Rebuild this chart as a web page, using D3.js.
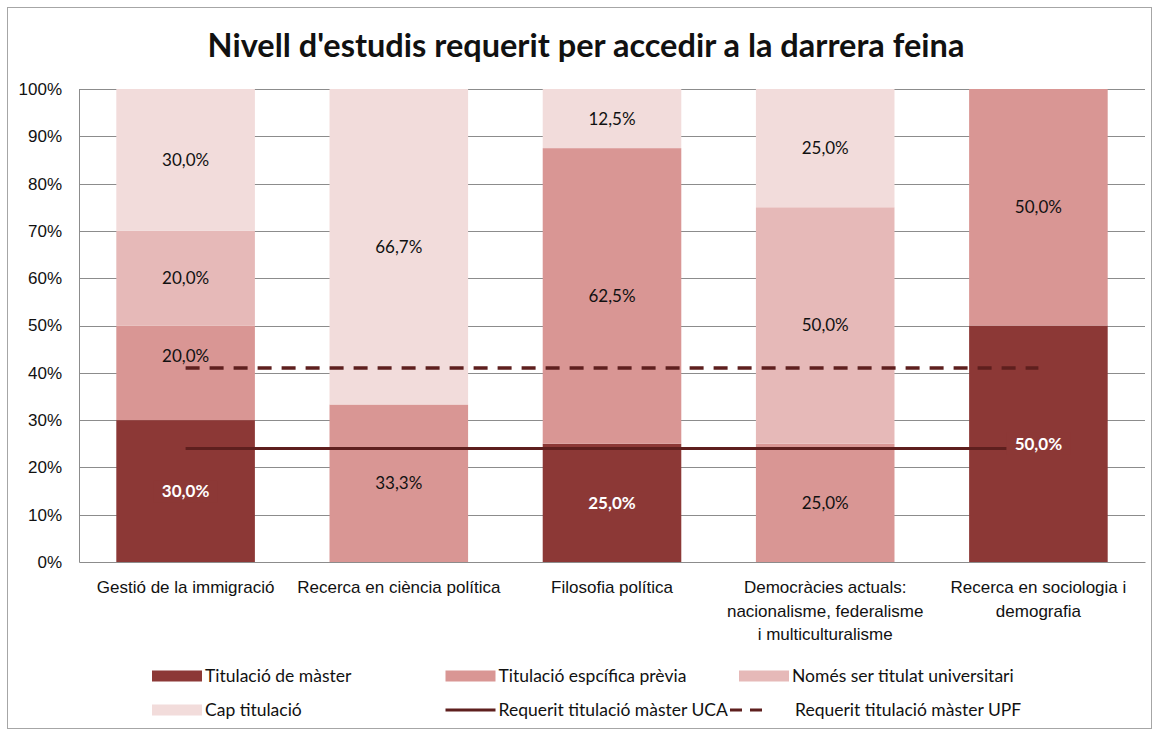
<!DOCTYPE html>
<html>
<head>
<meta charset="utf-8">
<script src="https://cdn.jsdelivr.net/npm/d3@7"></script>
<style>
  body { margin: 0; background: #fff; }
  svg { font-family: Lato, "Open Sans", sans-serif; }
</style>
</head>
<body>
<svg width="1159" height="731"></svg>
<script>
// chart data
var categories = [
  "Gestió de la immigració",
  "Recerca en ciència política",
  "Filosofia política",
  "Democràcies actuals:\nnacionalisme, federalisme\ni multiculturalisme",
  "Recerca en sociologia i\ndemografia"
];
var seriesNames = ["Titulació de màster", "Titulació espcífica prèvia", "Només ser titulat universitari", "Cap titulació"];
var master    = [30, 0, 25, 0, 50];
var especific = [20, 33.3, 62.5, 25, 50];
var nomes     = [20, 0, 0, 50, 0];
var cap       = [30, 66.7, 12.5, 25, 0];
var lineNames = ["Requerit titulació màster UCA", "Requerit titulació màster UPF"];
var uca = [24, 24, 24, 24, 24];
var upf = [41, 41, 41, 41, 41];
var yTicks = [0, 10, 20, 30, 40, 50, 60, 70, 80, 90, 100];
var title = "Nivell d'estudis requerit per accedir a la darrera feina";

var colors = ["#8c3836", "#d99694", "#e6b9b8", "#f2dcdb"];
var lineColor = "#5e1f1e";

var svg = d3.select("svg"),
    margin = {top: 89, right: 14, bottom: 169, left: 79},
    width = +svg.attr("width") - margin.left - margin.right,
    height = +svg.attr("height") - margin.top - margin.bottom;

// outer chart border
svg.append("rect")
    .attr("x", 7.5).attr("y", 7.5)
    .attr("width", 1144).attr("height", 721)
    .attr("fill", "none")
    .attr("stroke", "#a6a6a6");

svg.append("text")
    .attr("x", 586)
    .attr("y", 57)
    .attr("text-anchor", "middle")
    .attr("font-size", 32.5)
    .attr("font-weight", "bold")
    .attr("fill", "#111")
    .text(title);

var g = svg.append("g").attr("transform", "translate(" + margin.left + "," + margin.top + ")");

var x = d3.scaleBand()
    .domain(categories)
    .range([0, width])
    .paddingInner(0.35)
    .paddingOuter(0.175);

var y = d3.scaleLinear()
    .domain([0, 100])
    .range([height, 0]);

// table for the stack
var table = categories.map(function(c, i) {
  var row = {cat: c};
  row[seriesNames[0]] = master[i];
  row[seriesNames[1]] = especific[i];
  row[seriesNames[2]] = nomes[i];
  row[seriesNames[3]] = cap[i];
  return row;
});
var stacked = d3.stack().keys(seriesNames)(table);

// gridlines
g.append("g")
  .selectAll("line")
  .data(yTicks.slice(1))
  .enter().append("line")
    .attr("x1", 0).attr("x2", width)
    .attr("y1", function(d) { return Math.round(y(d)) + 0.5; })
    .attr("y2", function(d) { return Math.round(y(d)) + 0.5; })
    .attr("stroke", "#8c8c8c");

// bars
var layers = g.append("g")
  .selectAll("g")
  .data(stacked)
  .enter().append("g")
    .attr("fill", function(d, i) { return colors[i]; });

layers.selectAll("rect")
  .data(function(d) { return d; })
  .enter().append("rect")
    .attr("x", function(d) { return x(d.data.cat); })
    .attr("y", function(d) { return y(d[1]); })
    .attr("width", x.bandwidth())
    .attr("height", function(d) { return y(d[0]) - y(d[1]); });

// axes
var yAxis = g.append("g")
    .call(d3.axisLeft(y).tickValues(yTicks).tickSize(0).tickPadding(17)
      .tickFormat(function(d) { return d + "%"; }));
yAxis.select(".domain").attr("stroke", "#8c8c8c");
yAxis.selectAll("text").attr("font-size", 17).attr("fill", "#111");

var xAxis = g.append("g")
    .attr("transform", "translate(0," + height + ")")
    .call(d3.axisBottom(x).tickSize(0).tickPadding(19));
xAxis.select(".domain").attr("stroke", "#8c8c8c");
xAxis.selectAll("text")
    .attr("font-size", 17)
    .attr("fill", "#111")
    .each(function(d) {
      var t = d3.select(this), lines = d.split("\n"), yy = t.attr("y");
      t.text(null);
      lines.forEach(function(s, k) {
        t.append("tspan").attr("x", 0).attr("y", yy)
          .attr("dy", (0.71 + k * 1.38) + "em").text(s);
      });
    })
    .attr("dy", null);

// requirement lines
var line = d3.line()
    .x(function(d, i) { return x(categories[i]) + x.bandwidth() / 2; })
    .y(function(d) { return y(d); });

g.append("path")
    .datum(uca)
    .attr("d", line)
    .attr("fill", "none")
    .attr("stroke", lineColor)
    .attr("stroke-width", 3);

g.append("path")
    .datum(upf)
    .attr("d", line)
    .attr("fill", "none")
    .attr("stroke", lineColor)
    .attr("stroke-width", 3.5)
    .attr("stroke-dasharray", "14,10");

// value labels
stacked.forEach(function(layer, si) {
  layer.forEach(function(d, i) {
    var v = d[1] - d[0];
    if (!v) return;
    var cx = x(d.data.cat) + x.bandwidth() / 2,
        cy = y((d[0] + d[1]) / 2);
    var label = d3.format(".1f")(v).replace(".", ",") + "%";
    if (si === 0) {
      // dark box behind the white labels hides the lines
      g.append("rect")
          .attr("x", cx - 32).attr("y", cy - 11)
          .attr("width", 64).attr("height", 22)
          .attr("fill", colors[0]);
    } else {
      // nudge away from the lines
      [uca[i], upf[i]].forEach(function(lv) {
        if (Math.abs(cy - y(lv)) < 12) cy = y(lv) - 12;
      });
    }
    g.append("text")
        .attr("x", cx)
        .attr("y", cy)
        .attr("dy", "0.35em")
        .attr("text-anchor", "middle")
        .attr("font-size", 17)
        .attr("font-weight", si === 0 ? "bold" : "normal")
        .attr("fill", si === 0 ? "#fff" : "#111")
        .text(label);
  });
});

// legend
var legendItems = seriesNames.map(function(n, i) { return {name: n, type: "box", color: colors[i]}; })
  .concat([{name: lineNames[0], type: "line"}, {name: lineNames[1], type: "dash"}]);

var legend = svg.append("g")
  .selectAll("g")
  .data(legendItems)
  .enter().append("g")
    .attr("transform", function(d, i) {
      return "translate(" + (152 + (i % 3) * 293.5) + "," + (676 + Math.floor(i / 3) * 34) + ")";
    });

legend.filter(function(d) { return d.type === "box"; })
  .append("rect")
    .attr("y", -5.5)
    .attr("width", 50)
    .attr("height", 11)
    .attr("fill", function(d) { return d.color; });

legend.filter(function(d) { return d.type !== "box"; })
  .append("line")
    .attr("x1", function(d) { return d.type === "dash" ? -9 : 0; })
    .attr("x2", function(d) { return d.type === "dash" ? 30 : 50; })
    .attr("stroke", lineColor)
    .attr("stroke-width", 3)
    .attr("stroke-dasharray", function(d) { return d.type === "dash" ? "12,8" : null; });

legend.append("text")
    .attr("x", function(d) { return d.type === "dash" ? 56 : 53; })
    .attr("dy", "0.35em")
    .attr("font-size", 17.5)
    .attr("fill", "#111")
    .text(function(d) { return d.name; });
</script>
</body>
</html>
